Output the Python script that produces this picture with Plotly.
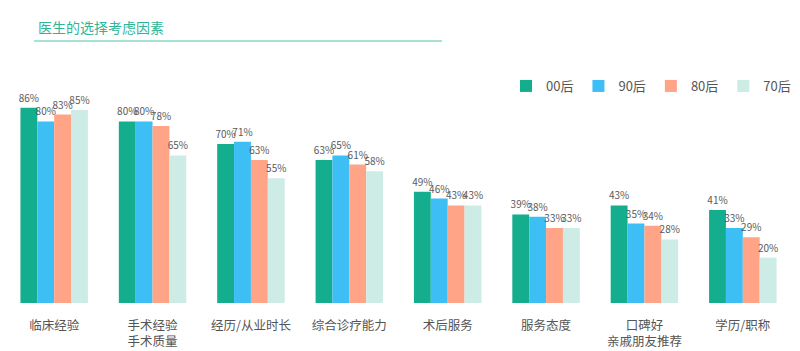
import plotly.graph_objects as go

categories = ["临床经验", "手术经验<br>手术质量", "经历/从业时长", "综合诊疗能力",
              "术后服务", "服务态度", "口碑好<br>亲戚朋友推荐", "学历/职称"]
series_names = ["00后", "90后", "80后", "70后"]
v00 = [86, 80, 70, 63, 49, 39, 43, 41]
v90 = [80, 80, 71, 65, 46, 38, 35, 33]
v80 = [83, 78, 63, 61, 43, 33, 34, 29]
v70 = [85, 65, 55, 58, 43, 33, 28, 20]
colors = ["#14AE8F", "#3DBEF5", "#FFA486", "#CDECE5"]

FONT = "Noto Sans CJK SC"
fig = go.Figure()
for name, vals, c in zip(series_names, [v00, v90, v80, v70], colors):
    fig.add_trace(go.Bar(
        x=categories, y=[v / 100 for v in vals], name=name,
        marker=dict(color=c, line=dict(width=0)),
        text=[f"{v}%" for v in vals], textposition="outside", textangle=0,
        constraintext="none",
        textfont=dict(size=10, color="#5a5a5a", family=FONT),
        cliponaxis=False,
    ))

W, H = 800, 351
L, R, T, B = 5, 8, 76, 48
pw = W - L - R
ph = H - T - B

def px(x):
    return (x - L) / pw

def py(y):
    return (H - B - y) / ph

fig.update_layout(
    width=W, height=H,
    margin=dict(l=L, r=R, t=T, b=B, autoexpand=False),
    paper_bgcolor="white", plot_bgcolor="white",
    barmode="group", bargap=0.314, bargroupgap=0,
    font=dict(family=FONT, color="#555555"),
    showlegend=True,
    legend=dict(orientation="h", x=px(506), xanchor="left", y=py(86), yanchor="middle",
                font=dict(size=13, color="#555555", family=FONT),
                itemwidth=30, traceorder="normal", bgcolor="rgba(0,0,0,0)"),
    xaxis=dict(showline=False, showgrid=False, zeroline=False, ticks="",
               tickfont=dict(size=12.5, color="#555555", family=FONT),
               ticklabelstandoff=13, range=[-0.5, 7.5]),
    yaxis=dict(range=[0, 1], visible=False, showgrid=False, zeroline=False),
)
fig.add_annotation(text="医生的选择考虑因素", xref="paper", yref="paper",
                   x=px(36), y=py(27), xanchor="left", yanchor="middle",
                   showarrow=False, font=dict(size=14, color="#2FB596", family=FONT))
fig.add_shape(type="line", xref="paper", yref="paper",
              x0=px(34), x1=px(442), y0=py(41), y1=py(41),
              line=dict(color="#A8E2D4", width=2))

fig.write_html("out.html")
